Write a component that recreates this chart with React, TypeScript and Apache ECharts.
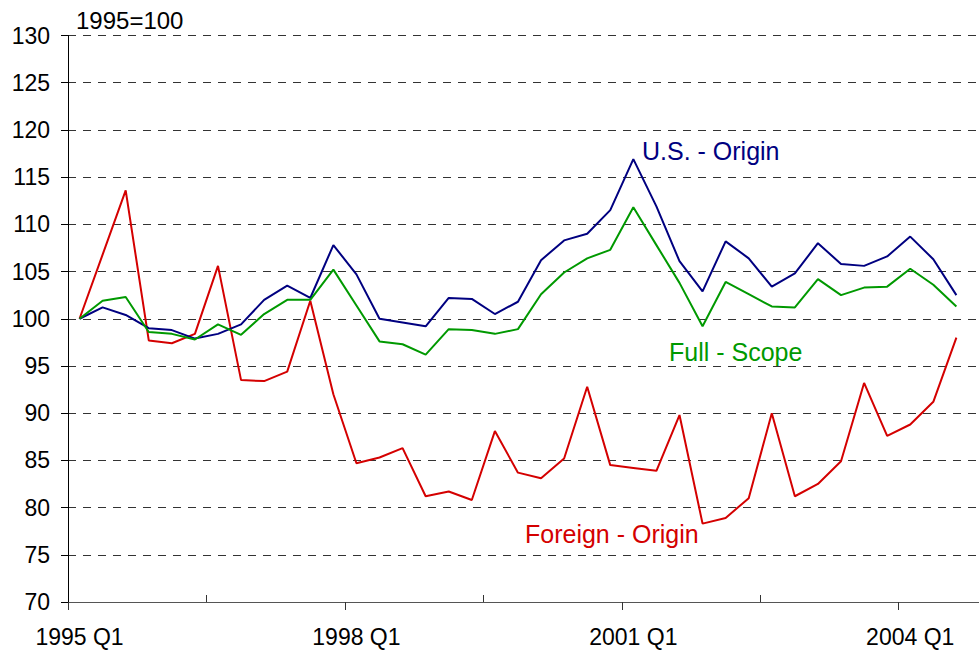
import React, { useEffect, useRef } from "react";
import * as echarts from "echarts";

const categories = [
  "1995 Q1", "1995 Q2", "1995 Q3", "1995 Q4",
  "1996 Q1", "1996 Q2", "1996 Q3", "1996 Q4",
  "1997 Q1", "1997 Q2", "1997 Q3", "1997 Q4",
  "1998 Q1", "1998 Q2", "1998 Q3", "1998 Q4",
  "1999 Q1", "1999 Q2", "1999 Q3", "1999 Q4",
  "2000 Q1", "2000 Q2", "2000 Q3", "2000 Q4",
  "2001 Q1", "2001 Q2", "2001 Q3", "2001 Q4",
  "2002 Q1", "2002 Q2", "2002 Q3", "2002 Q4",
  "2003 Q1", "2003 Q2", "2003 Q3", "2003 Q4",
  "2004 Q1", "2004 Q2", "2004 Q3", "2004 Q4",
];

const usOrigin = [
  100, 101.2, 100.4, 99.0, 98.8, 97.9, 98.4, 99.4, 102.0, 103.5,
  102.2, 107.8, 104.7, 100.0, 99.6, 99.2, 102.2, 102.1, 100.5, 101.8,
  106.2, 108.3, 109.0, 111.5, 116.9, 111.9, 106.1, 102.9, 108.2, 106.4,
  103.4, 104.8, 108.0, 105.8, 105.6, 106.6, 108.7, 106.3, 102.5, null,
];

const fullScope = [
  100, 101.9, 102.3, 98.6, 98.4, 97.8, 99.4, 98.3, 100.5, 102.0,
  102.0, 105.2, 101.4, 97.6, 97.3, 96.2, 98.9, 98.8, 98.4, 98.9,
  102.6, 104.9, 106.4, 107.3, 111.8, 107.8, 103.8, 99.2, 103.9, 102.6,
  101.3, 101.2, 104.2, 102.5, 103.3, 103.4, 105.3, 103.6, 101.3, null,
];

const foreignOrigin = [
  100, 106.8, 113.6, 97.7, 97.4, 98.4, 105.6, 93.5, 93.4, 94.4,
  101.9, 92.0, 84.7, 85.3, 86.3, 81.2, 81.7, 80.8, 88.1, 83.7,
  83.1, 85.2, 92.8, 84.5, 84.2, 83.9, 89.8, 78.3, 78.9, 81.0,
  90.0, 81.2, 82.5, 84.9, 93.2, 87.6, 88.8, 91.2, 98.0, null,
];

const seriesNames = ["U.S. - Origin", "Full - Scope", "Foreign - Origin"];
const unitLabel = "1995=100";

const FONT = "'Liberation Sans', Arial, Helvetica, sans-serif";
const BLUE = "#000080";
const GREEN = "#009900";
const RED = "#d40000";

export default function App() {
  const ref = useRef<HTMLDivElement>(null);

  useEffect(() => {
    if (!ref.current) return;
    const chart = echarts.init(ref.current, undefined, { renderer: "svg" });
    chart.setOption({
      animation: false,
      backgroundColor: "#ffffff",
      grid: { left: 68, width: 923, top: 35.5, bottom: 50, containLabel: false },
      xAxis: [
        {
          type: "category",
          data: categories,
          boundaryGap: true,
          axisLine: { show: true, lineStyle: { color: "#555", width: 1 } },
          axisTick: {
            show: true,
            inside: false,
            length: 8,
            interval: (i: number) => i % 12 === 0,
            lineStyle: { color: "#333" },
          },
          axisLabel: {
            show: true,
            interval: (i: number) => i % 12 === 0,
            fontFamily: FONT,
            fontSize: 23,
            color: "#000",
            margin: 23,
          },
          splitLine: { show: false },
        },
        {
          type: "category",
          data: categories,
          boundaryGap: true,
          position: "bottom",
          axisLine: { show: false },
          axisTick: {
            show: true,
            inside: true,
            length: 7,
            interval: (i: number) => i % 12 === 6,
            lineStyle: { color: "#333" },
          },
          axisLabel: { show: false },
          splitLine: { show: false },
        },
      ],
      yAxis: {
        type: "value",
        min: 70,
        max: 130,
        interval: 5,
        axisLine: { show: true, lineStyle: { color: "#000", width: 1 } },
        axisTick: { show: true, inside: false, length: 7, lineStyle: { color: "#000" } },
        axisLabel: {
          fontFamily: FONT,
          fontSize: 23,
          color: "#000",
          margin: 18,
        },
        splitLine: {
          show: true,
          lineStyle: { color: "#333", width: 1, type: [8, 7] },
        },
      },
      series: [
        {
          name: seriesNames[0],
          type: "line",
          data: usOrigin,
          symbol: "none",
          lineStyle: { color: BLUE, width: 2 },
          itemStyle: { color: BLUE },
          z: 3,
        },
        {
          name: seriesNames[1],
          type: "line",
          data: fullScope,
          symbol: "none",
          lineStyle: { color: GREEN, width: 2 },
          itemStyle: { color: GREEN },
          z: 4,
        },
        {
          name: seriesNames[2],
          type: "line",
          data: foreignOrigin,
          symbol: "none",
          lineStyle: { color: RED, width: 2 },
          itemStyle: { color: RED },
          z: 2,
        },
      ],
      graphic: [
        {
          type: "text",
          left: 76,
          top: 8,
          style: { text: unitLabel, fontFamily: FONT, fontSize: 24, fill: "#000" },
        },
        {
          type: "text",
          x: 642,
          y: 151,
          style: {
            text: seriesNames[0],
            fontFamily: FONT,
            fontSize: 25,
            fill: BLUE,
            verticalAlign: "middle",
          },
        },
        {
          type: "text",
          x: 669,
          y: 352,
          style: {
            text: seriesNames[1],
            fontFamily: FONT,
            fontSize: 25,
            fill: GREEN,
            verticalAlign: "middle",
          },
        },
        {
          type: "text",
          x: 525,
          y: 534,
          style: {
            text: seriesNames[2],
            fontFamily: FONT,
            fontSize: 25,
            fill: RED,
            verticalAlign: "middle",
          },
        },
      ],
    });
    return () => chart.dispose();
  }, []);

  return (
    <div
      style={{
        position: "fixed",
        left: 0,
        top: 0,
        width: 979,
        height: 652,
        overflow: "hidden",
        background: "#fff",
      }}
    >
      <div ref={ref} style={{ width: 1000, height: 652 }} />
    </div>
  );
}
